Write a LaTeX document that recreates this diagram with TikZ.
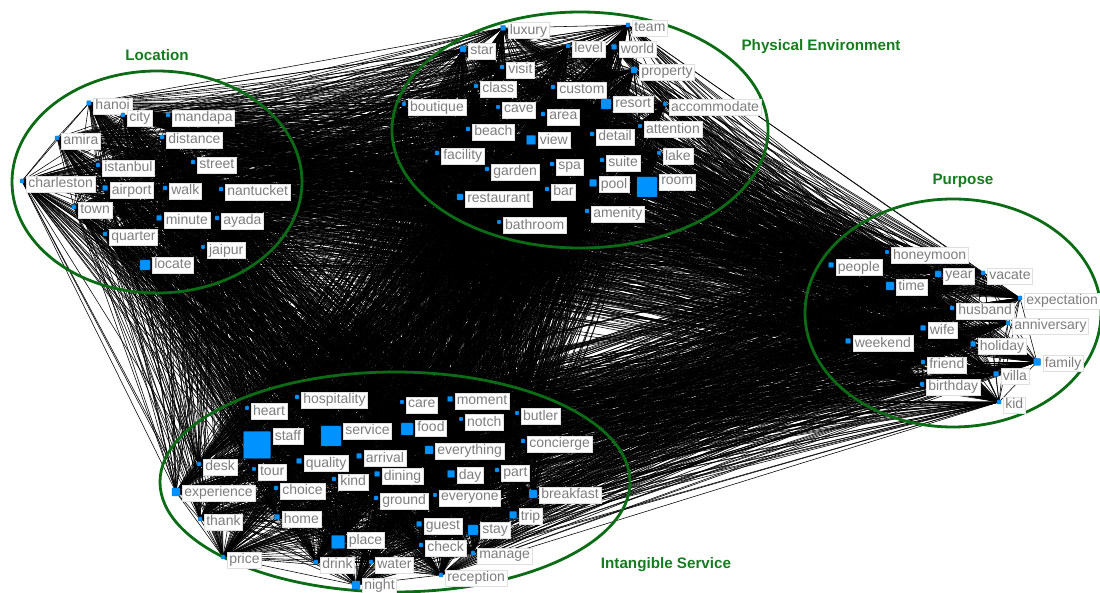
\documentclass[tikz,border=0pt]{standalone}
\usepackage{fontspec}
\newfontfamily\kwfont{Liberation Sans}
\usetikzlibrary{positioning}
\definecolor{kwblue}{RGB}{0,146,255}
\definecolor{kwgray}{RGB}{125,125,125}
\definecolor{ringgreen}{RGB}{12,108,22}
\definecolor{titlegreen}{RGB}{22,124,32}
\pgfdeclarelayer{edges}
\pgfdeclarelayer{rings}
\pgfsetlayers{edges,rings,main}
\tikzset{
	kwbox/.style={fill=kwblue, draw=kwblue!70!black, line width=0.1pt, rounded corners=0.3pt, inner sep=0pt},
	kwlabel/.style={fill=white, draw=gray!25, line width=0.2pt, text=kwgray, font=\kwfont\fontsize{7}{7}\selectfont, inner xsep=1pt, inner ysep=0pt, minimum height=8pt, text depth=1.2pt},
	grouptitle/.style={text=titlegreen, font=\kwfont\bfseries\fontsize{7.6}{8}\selectfont},
	tie/.style={line width=0.28pt, black}
}
\gdef\kwlist{}
\newcommand{\kw}[4]% name, x, y, size of square
{\node[kwbox, minimum size=#4pt] (#1) at (#2,#3) {};
	\node[kwlabel, anchor=north west] (#1-txt) at ([shift={(1pt,1.5pt)}]#1.north east) {#1};
	\ifx\kwlist\empty\xdef\kwlist{#1}\else\xdef\kwlist{\kwlist,#1}\fi
}
\newcommand{\groupring}[3]% center, xdim, ydim
{(#1) ellipse (#2 and #3)
}
\begin{document}
\begin{tikzpicture}[x=0.5pt, y=-0.5pt]
	\useasboundingbox (0,0) rectangle (1100,593);
	% Location
	\kw{hanoi}{89}{103}{2.2}
	\kw{city}{123}{115}{2}
	\kw{mandapa}{168}{115}{2}
	\kw{amira}{57}{138}{2}
	\kw{distance}{162}{137}{2}
	\kw{istanbul}{98}{165}{2}
	\kw{street}{193}{162}{2}
	\kw{charleston}{22}{181}{2}
	\kw{airport}{105}{188}{2.5}
	\kw{walk}{165}{188}{2}
	\kw{nantucket}{221}{189}{2}
	\kw{town}{74}{207}{2}
	\kw{minute}{159}{218}{2.5}
	\kw{ayada}{217}{218}{2}
	\kw{quarter}{105}{234}{2}
	\kw{jaipur}{203}{247}{1.8}
	\kw{locate}{145}{265}{5}
	% Physical Environment
	\kw{luxury}{503}{28}{2.5}
	\kw{team}{628}{25}{2}
	\kw{star}{463}{49}{3}
	\kw{level}{568}{46}{2}
	\kw{world}{614}{47}{2.5}
	\kw{visit}{502}{67}{2}
	\kw{property}{634}{70}{3}
	\kw{class}{476}{86}{2}
	\kw{custom}{553}{87}{2}
	\kw{boutique}{404}{104}{1.8}
	\kw{cave}{498}{107}{1.8}
	\kw{resort}{606}{104}{5}
	\kw{accommodate}{665}{104}{1.8}
	\kw{area}{543}{114}{2}
	\kw{attention}{640}{126}{1.8}
	\kw{beach}{468}{129}{2}
	\kw{view}{531}{140}{4.5}
	\kw{detail}{592}{134}{2}
	\kw{facility}{437}{153}{2}
	\kw{lake}{659}{153}{1.8}
	\kw{garden}{487}{169}{2}
	\kw{spa}{552}{164}{2}
	\kw{suite}{602}{160}{2}
	\kw{pool}{593}{183}{3.5}
	\kw{room}{647}{187}{10}
	\kw{bar}{547}{189}{2}
	\kw{restaurant}{460}{197}{3}
	\kw{amenity}{587}{211}{2}
	\kw{bathroom}{499}{222}{1.8}
	% Purpose
	\kw{honeymoon}{887}{252}{1.8}
	\kw{people}{831}{265}{2.5}
	\kw{year}{938}{274}{3}
	\kw{vacate}{983}{273}{2}
	\kw{time}{890}{286}{4}
	\kw{expectation}{1020}{298}{2}
	\kw{husband}{952}{308}{2}
	\kw{anniversary}{1008}{323}{2}
	\kw{wife}{923}{328}{2.5}
	\kw{weekend}{848}{341}{2.5}
	\kw{holiday}{973}{344}{2.5}
	\kw{family}{1037}{362}{3.5}
	\kw{friend}{923}{362}{2}
	\kw{villa}{996}{374}{2.5}
	\kw{birthday}{922}{384}{2}
	\kw{kid}{999}{402}{2}
	% Intangible Service
	\kw{hospitality}{297}{397}{2}
	\kw{heart}{247}{408}{1.8}
	\kw{care}{402}{402}{1.8}
	\kw{moment}{450}{399}{2.5}
	\kw{butler}{517}{413}{1.8}
	\kw{notch}{461}{419}{1.8}
	\kw{staff}{257}{445}{13.5}
	\kw{service}{331}{436}{10}
	\kw{food}{407}{429}{6}
	\kw{concierge}{523}{441}{2}
	\kw{everything}{429}{450}{4}
	\kw{quality}{299}{461}{2.5}
	\kw{arrival}{359}{456}{2.5}
	\kw{desk}{199}{464}{2}
	\kw{tour}{254}{469}{1.8}
	\kw{kind}{334}{479}{2}
	\kw{dining}{377}{474}{2.5}
	\kw{day}{451}{474}{3.5}
	\kw{part}{497}{470}{2}
	\kw{experience}{176}{492}{4}
	\kw{choice}{276}{488}{2}
	\kw{ground}{376}{498}{2}
	\kw{everyone}{435}{495}{1.8}
	\kw{breakfast}{533}{494}{4}
	\kw{trip}{513}{515}{3.5}
	\kw{thank}{200}{519}{2}
	\kw{home}{277}{517}{2.5}
	\kw{guest}{419}{524}{2.5}
	\kw{stay}{473}{530}{5}
	\kw{place}{338}{542}{6.5}
	\kw{check}{421}{545}{2}
	\kw{manage}{473}{553}{2}
	\kw{price}{223}{557}{2}
	\kw{drink}{316}{562}{2}
	\kw{water}{371}{562}{2}
	\kw{reception}{441}{575}{2}
	\kw{night}{356}{585}{4}
	% co-occurrence ties
	\begin{pgfonlayer}{edges}
		\foreach \a [count=\i] in \kwlist {
			\foreach \b [count=\j] in \kwlist {
				\ifnum\j>\i \draw[tie] (\a.center) -- (\b.center);\fi
			}
		}
	\end{pgfonlayer}
	% groups
	\begin{pgfonlayer}{rings}
		\draw[ringgreen, line width=1.4pt] \groupring{157,182}{145}{111};
		\draw[ringgreen, line width=1.4pt] \groupring{580,130}{188}{118};
		\draw[ringgreen, line width=1.4pt] \groupring{953,313}{148}{114};
		\draw[ringgreen, line width=1.4pt] \groupring{395,482}{235}{110};
	\end{pgfonlayer}
	\node[grouptitle] (loc) at (157,55) {Location};
	\node[grouptitle] (phy) at (821,47) {Physical Environment};
	\node[grouptitle] (pur) at (963,181) {Purpose};
	\node[grouptitle] (int) at (666,565) {Intangible Service};
\end{tikzpicture}
\end{document}
